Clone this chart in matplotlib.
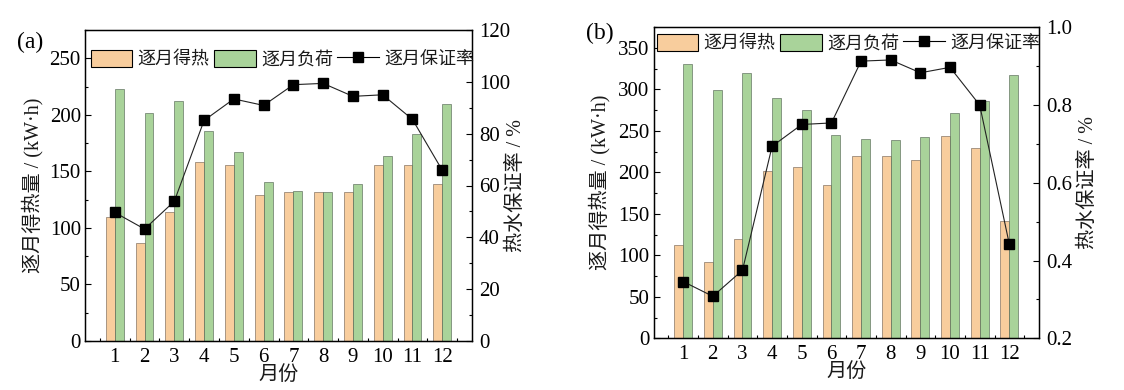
import matplotlib
matplotlib.use("Agg")
import matplotlib.pyplot as plt
import numpy as np
from matplotlib.ticker import MultipleLocator, FormatStrFormatter
from matplotlib.patches import Patch
from matplotlib.lines import Line2D

plt.rcParams['font.family'] = ['Liberation Serif', 'Noto Sans CJK SC']
plt.rcParams['axes.unicode_minus'] = False

months = [1, 2, 3, 4, 5, 6, 7, 8, 9, 10, 11, 12]
month_labels = ['1', '2', '3', '4', '5', '6', '7', '8', '9', '10', '11', '12']

gain_a = [110, 87, 114, 158, 156, 129, 131.5, 131.5, 131.5, 156, 156, 138.5]
load_a = [222.5, 201.5, 212, 185.5, 167, 141, 132.5, 131.5, 138.5, 164, 183, 210]
rate_a = [49.6, 43.2, 53.9, 85.1, 93.4, 90.9, 98.9, 99.4, 94.4, 95.0, 85.5, 65.9]

gain_b = [113, 92, 120, 201.5, 207, 184.5, 220, 220, 215, 244, 229.5, 141.5]
load_b = [330.5, 299.5, 320, 289.5, 275, 245, 240, 239, 242.5, 271.5, 286, 317.5]
rate_b = [0.346, 0.308, 0.375, 0.694, 0.750, 0.754, 0.913, 0.916, 0.883, 0.897, 0.800, 0.442]

legend_labels = ['逐月得热', '逐月负荷', '逐月保证率']
xlabel = '月份'
ylabel_left = '逐月得热量 / (kW·h)'
ylabel_right = '热水保证率 / %'

c_gain = '#F8CD9D'
c_load = '#A9D39A'
txt = '#1a1a1a'

fig = plt.figure(figsize=(11.24, 3.90), dpi=100)

W, H = 1124, 390

def make_panel(rect, gain, load, rate, ylim_l, ymaj_l, ymin_l, ylim_r, ymaj_r, ymin_r, rfmt,
               leg_y, leg_x0, leg_x1, label, label_xy, ylab_lx, ylab_rx):
    ax = fig.add_axes(rect)
    x = np.array(months)
    w = 0.3
    ax.bar(x - w / 2, gain, width=w, color=c_gain, edgecolor='#6a5a4a', linewidth=0.4, zorder=2)
    ax.bar(x + w / 2, load, width=w, color=c_load, edgecolor='#4a5a4a', linewidth=0.4, zorder=2)
    ax.set_xlim(0, 13)
    ax.set_ylim(*ylim_l)
    ax.set_xticks(months)
    ax.set_xticklabels(month_labels)
    ax.set_xticks(np.arange(0.5, 13, 1), minor=True)
    ax.yaxis.set_major_locator(MultipleLocator(ymaj_l))
    ax.yaxis.set_minor_locator(MultipleLocator(ymin_l))
    ax.tick_params(axis='x', which='major', length=0, labelsize=15, pad=5)
    ax.tick_params(axis='x', which='minor', direction='in', length=2.5, width=0.8)
    ax.tick_params(axis='y', which='major', direction='in', length=4.5, width=0.8, labelsize=15, pad=3)
    ax.tick_params(axis='y', which='minor', direction='in', length=2.5, width=0.8)
    for s in ax.spines.values():
        s.set_linewidth(1.0)

    ax2 = ax.twinx()
    ax2.plot(x, rate, color='#222222', linewidth=0.8, marker='s', markersize=6.5,
             markerfacecolor='black', markeredgecolor='black', zorder=3)
    ax2.set_ylim(*ylim_r)
    ax2.yaxis.set_major_locator(MultipleLocator(ymaj_r))
    ax2.yaxis.set_minor_locator(MultipleLocator(ymin_r))
    ax2.yaxis.set_major_formatter(FormatStrFormatter(rfmt))
    ax2.tick_params(axis='y', which='major', direction='in', length=4.5, width=0.8, labelsize=15, pad=5)
    ax2.tick_params(axis='y', which='minor', direction='in', length=2.5, width=0.8)

    ax.set_xlabel(xlabel, fontsize=14.5, color=txt, labelpad=-1)
    fig.text(ylab_lx / W, rect[1] + rect[3] / 2, ylabel_left, rotation=90, fontsize=14.5,
             color=txt, ha='center', va='center')
    fig.text(ylab_rx / W, rect[1] + rect[3] / 2, ylabel_right, rotation=90, fontsize=14.5,
             color=txt, ha='center', va='center')
    fig.text(label_xy[0] / W, 1 - label_xy[1] / H, label, fontsize=17, ha='center', va='center')

    handles = [Patch(facecolor=c_gain, edgecolor='black', linewidth=0.8),
               Patch(facecolor=c_load, edgecolor='black', linewidth=0.8),
               Line2D([0], [0], color='black', linewidth=0.8, marker='s', markersize=6.5)]
    leg = ax2.legend(handles, legend_labels, loc='center', ncol=3, frameon=False,
                     bbox_to_anchor=((leg_x0 + leg_x1) / 2, leg_y), fontsize=13,
                     handlelength=2.3, handleheight=1.1, handletextpad=0.3,
                     columnspacing=0.25, borderaxespad=0)
    for t in leg.get_texts():
        t.set_color(txt)
    return ax, ax2

ra = [85 / W, 1 - 341 / H, (472 - 85) / W, (341 - 30) / H]
make_panel(ra, gain_a, load_a, rate_a, (0, 275), 50, 25, (0, 120), 20, 10, '%d',
           (341 - 59) / 311, (97 - 85) / 387, (468 - 85) / 387, '(a)', (30, 42), 33, 516)

rb = [653.5 / W, 1 - 338.3 / H, (1039 - 653.5) / W, (338.3 - 27.3) / H]
make_panel(rb, gain_b, load_b, rate_b, (0, 375), 50, 25, (0.2, 1.0), 0.2, 0.1, '%.1f',
           (338.3 - 43) / 311, (664 - 653.5) / 385.5, (1033 - 653.5) / 385.5, '(b)', (600, 33), 600, 1088)

fig.savefig('out.png', dpi=100)
